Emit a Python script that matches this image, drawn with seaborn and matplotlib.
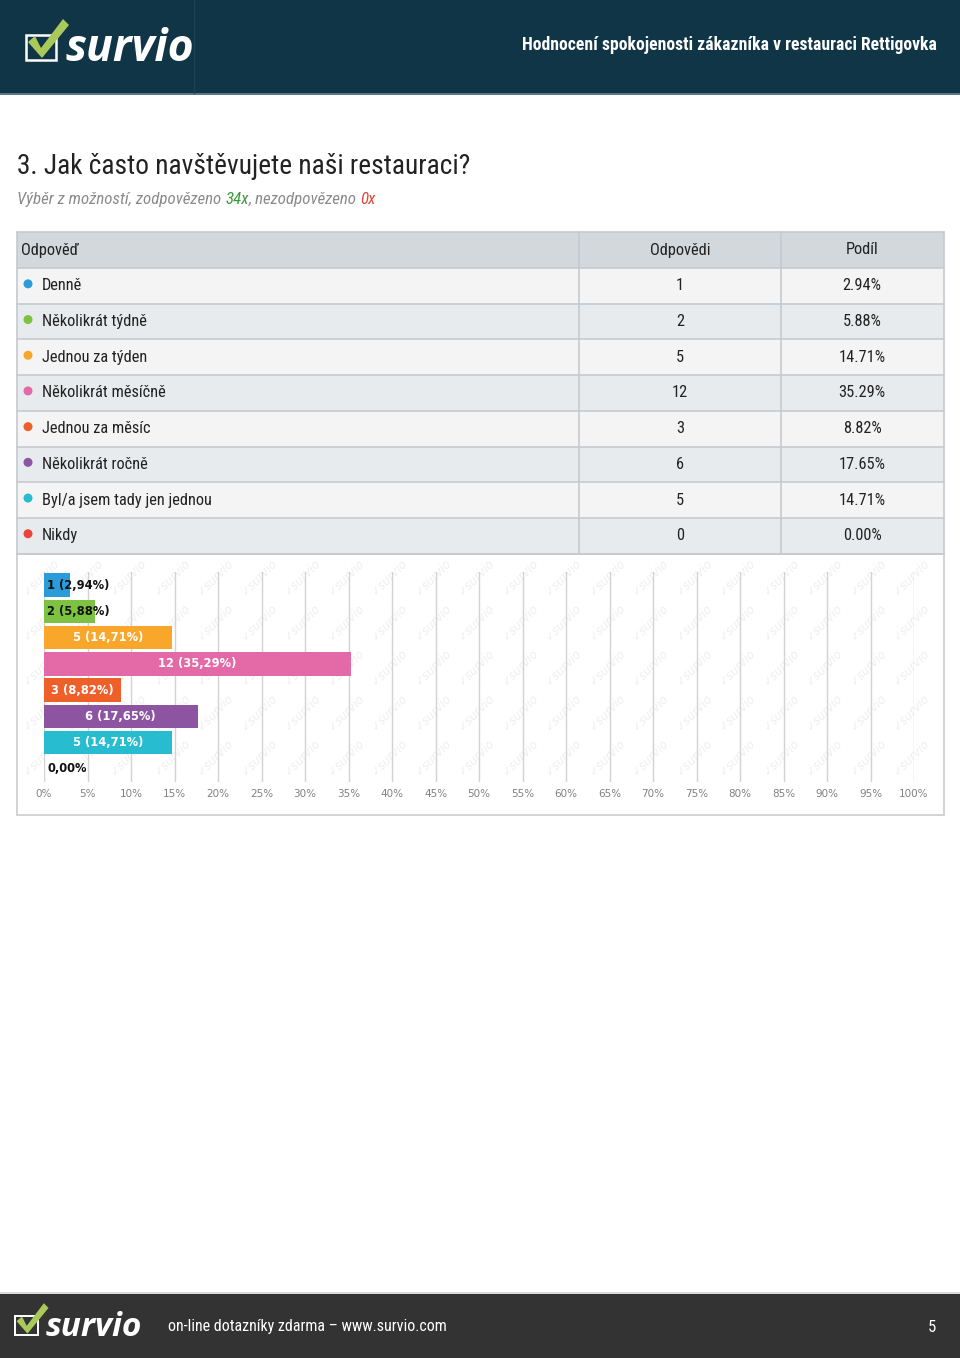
import numpy as np
import pandas as pd
import matplotlib
matplotlib.use("Agg")
import matplotlib.pyplot as plt
from matplotlib.patches import Rectangle, Circle, Polygon
from matplotlib import font_manager as fm
import seaborn as sns

# ---------------- data ----------------
categories = ["Denně", "Několikrát týdně", "Jednou za týden", "Několikrát měsíčně",
              "Jednou za měsíc", "Několikrát ročně", "Byl/a jsem tady jen jednou", "Nikdy"]
counts = [1, 2, 5, 12, 3, 6, 5, 0]
shares = [2.94, 5.88, 14.71, 35.29, 8.82, 17.65, 14.71, 0.00]
colors = ["#2b9cd8", "#7dc242", "#f8a72a", "#e46aa7", "#ee5f2a", "#8c54a1", "#27bccf", "#e8453c"]
tick_values = list(range(0, 101, 5))
tick_labels = [f"{v}%" for v in tick_values]

header_title = "Hodnocení spokojenosti zákazníka v restauraci Rettigovka"
question = "3. Jak často navštěvujete naši restauraci?"
answered, unanswered = "34x", "0x"
col_headers = ["Odpověď", "Odpovědi", "Podíl"]
footer_text = "on-line dotazníky zdarma – www.survio.com"
page_no = "5"


def pick(names):
    for n in names:
        try:
            fm.findfont(fm.FontProperties(family=n), fallback_to_default=False)
            return n
        except Exception:
            pass
    return "DejaVu Sans"


NARROWF = pick(["Liberation Sans Narrow", "Roboto Condensed", "Lato", "Liberation Sans"])
NARROW = [NARROWF, "DejaVu Sans"]

sns.set_theme(style="white")
plt.rcParams["font.family"] = ["DejaVu Sans"]

fig = plt.figure(figsize=(9.6, 13.58), dpi=100)
fig.patch.set_facecolor("white")

bg = fig.add_axes([0, 0, 1, 1], zorder=0)
bg.set_xlim(0, 960)
bg.set_ylim(1358, 0)
bg.axis("off")

# ---------------- header ----------------
bg.add_patch(Rectangle((0, 0), 960, 93, color="#0f3547", lw=0))
bg.add_patch(Rectangle((0, 93), 960, 2, color="#587884", lw=0))
bg.plot([193.5, 193.5], [0, 93], color="#1b4254", lw=1)


def logo(x0, ybase, size, scale):
    bg.add_patch(Rectangle((x0, ybase - 26 * scale), 30 * scale, 25 * scale,
                           fill=False, ec="white", lw=1.8 * scale))
    pts = np.array([(2, -19), (9, -25), (15, -13), (37, -42), (43, -36), (16, -3)]) * scale
    pts[:, 0] += x0
    pts[:, 1] += ybase
    bg.add_patch(Polygon(pts, closed=True, color="#a9c95b", lw=0))
    bg.text(x0 + 39 * scale, ybase, "survio", color="white", fontsize=size,
            family=["Open Sans", "DejaVu Sans"], fontweight="bold", fontstyle="italic",
            va="baseline", ha="left")


logo(26, 61, 32, 1.0)
bg.text(937, 45, header_title, color="white", fontsize=12.7, family=NARROW,
        fontweight="bold", ha="right", va="center")

# ---------------- title ----------------
bg.text(17, 167, question, color="#222222", fontsize=19.7, family=NARROW, ha="left", va="center")

fig.canvas.draw()
renderer = fig.canvas.get_renderer()
x = 17
parts = [("Výběr z možností, zodpovězeno ", "#8a8a8a"), (answered, "#3a9a3a"),
         (", nezodpovězeno ", "#8a8a8a"), (unanswered, "#e0463a")]
for s, c in parts:
    t = bg.text(x, 199, s, color=c, fontsize=12.2, family=NARROW, fontstyle="italic",
                ha="left", va="center")
    x = t.get_window_extent(renderer).x1

# ---------------- table ----------------
L, R = 17, 944
c1, c2 = 578.5, 780.5
top = 232
hh = 36
rh = 35.7
FS = 11.8
bg.add_patch(Rectangle((L, top), R - L, hh, color="#d2d8dc", lw=0))
for i in range(len(categories)):
    y0 = top + hh + i * rh
    bg.add_patch(Rectangle((L, y0), R - L, rh, color="#f4f4f4" if i % 2 == 0 else "#e8ebed", lw=0))
line_c = "#c4cacf"
for i in range(len(categories) + 2):
    y = top if i == 0 else top + hh + (i - 1) * rh
    bg.plot([L, R], [y, y], color=line_c, lw=1.2)
bottom_t = top + hh + len(categories) * rh
for xx in (L, c1, c2, R):
    bg.plot([xx, xx], [top, bottom_t], color=line_c, lw=1.2)

bg.text(21, top + hh / 2, col_headers[0], fontsize=FS, family=NARROW, color="#222", va="center")
bg.text(680, top + hh / 2, col_headers[1], fontsize=FS, family=NARROW, color="#222",
        va="center", ha="center")
bg.text(862, top + hh / 2, col_headers[2], fontsize=FS, family=NARROW, color="#222",
        va="center", ha="center")
for i, (cat, n, sh, col) in enumerate(zip(categories, counts, shares, colors)):
    yc = top + hh + i * rh + rh / 2
    bg.add_patch(Circle((28, yc - 2), 4.5, color=col, lw=0))
    bg.text(42, yc, cat, fontsize=FS, family=NARROW, color="#222", va="center")
    bg.text(680, yc, f"{n}", fontsize=FS, family=NARROW, color="#222", va="center", ha="center")
    bg.text(862, yc, f"{sh:.2f}%", fontsize=FS, family=NARROW, color="#222",
            va="center", ha="center")

# ---------------- chart box + watermark ----------------
box_bot = 815
bg.add_patch(Rectangle((L, bottom_t), R - L, box_bot - bottom_t, fill=False, ec="#cccccc", lw=1.2))
for row, yy in enumerate(np.arange(bottom_t + 24, box_bot - 18, 45)):
    for xx in np.arange(L + 24, R - 18, 43.5):
        bg.text(xx, yy, "✓survio", fontsize=8.5, color="#efefef", rotation=45,
                ha="center", va="center", fontstyle="italic")

# ---------------- bar chart ----------------
ax_left, ax_right = 44, 914
ax_top, ax_bot = 572, 782
ax = fig.add_axes([ax_left / 960, 1 - ax_bot / 1358, (ax_right - ax_left) / 960,
                   (ax_bot - ax_top) / 1358], zorder=1)
ax.patch.set_alpha(0)

df = pd.DataFrame({"Odpověď": categories, "Podíl": shares, "Počet": counts})
sns.barplot(data=df, y="Odpověď", x="Podíl", hue="Odpověď", palette=colors, orient="h",
            width=0.89, saturation=1, legend=False, ax=ax, edgecolor="none")
ax.set_xlim(0, 100)
ax.set_ylim(len(categories) - 0.5, -0.5)
ax.set_xticks(tick_values)
ax.set_xticklabels(tick_labels, fontsize=7.5, color="#808080")
ax.tick_params(axis="x", length=0, pad=5)
ax.set_yticks([])
ax.set_xlabel("")
ax.set_ylabel("")
for s in ax.spines.values():
    s.set_visible(False)
ax.set_axisbelow(True)
ax.xaxis.grid(True, color="#d2d2d2", lw=1)
ax.yaxis.grid(False)

for i, (n, sh) in enumerate(zip(counts, shares)):
    pct = f"{sh:.2f}".replace(".", ",") + "%"
    label = f"{n} ({pct})" if n > 0 else pct
    t = ax.text(0, i, label, fontsize=8.3, fontweight="bold", color="white", va="center", ha="center")
    w = t.get_window_extent(renderer).width * 100 / (ax_right - ax_left)
    if sh < w + 1:
        t.set_x(0.35)
        t.set_ha("left")
        t.set_color("#111111")
    else:
        t.set_x(sh / 2)

# ---------------- footer ----------------
bg.add_patch(Rectangle((0, 1292), 960, 2, color="#d9d9d9", lw=0))
bg.add_patch(Rectangle((0, 1294), 960, 64, color="#333333", lw=0))
logo(15, 1336, 24, 0.78)
bg.text(168, 1327, footer_text, color="white", fontsize=11.5, family=NARROW, va="center", ha="left")
bg.text(936, 1327, page_no, color="white", fontsize=12, family=NARROW, va="center", ha="right")

fig.savefig("out.png", dpi=100)
